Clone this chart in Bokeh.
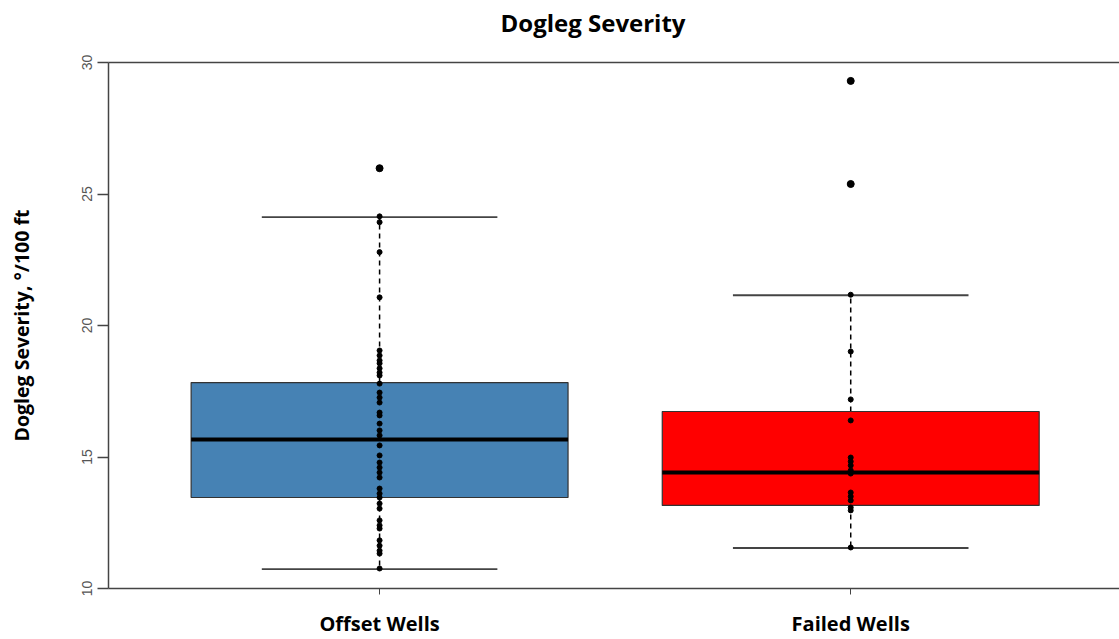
from bokeh.plotting import figure
from bokeh.models import FixedTicker, LinearAxis, Range1d
from bokeh.embed import file_html
from bokeh.resources import INLINE

# ---- data ----
title_text = "Dogleg Severity"
groups = ["Offset Wells", "Failed Wells"]
positions = [1, 2]
box_colors = ["#4682B4", "#FF0000"]
q1 = [13.46, 13.16]
median = [15.67, 14.41]
q3 = [17.83, 16.73]
whisker_low = [10.74, 11.54]
whisker_high = [24.12, 21.15]
outliers_offset = [25.98]
outliers_failed = [29.30, 25.38]

offset_points = [25.98, 24.15, 23.93, 22.79, 21.07, 19.05, 18.86, 18.67, 18.56,
                 18.37, 18.21, 18.10, 17.79, 17.45, 17.26, 17.07, 16.69, 16.58,
                 16.27, 16.01, 15.82, 15.44, 15.06, 14.79, 14.60, 14.41, 14.22,
                 13.80, 13.61, 13.46, 13.23, 13.04, 12.59, 12.40, 12.28, 11.83,
                 11.63, 11.44, 11.33, 10.76]
failed_points = [29.30, 25.38, 21.17, 19.01, 17.19, 16.39, 14.98, 14.83, 14.68,
                 14.49, 14.37, 13.65, 13.50, 13.35, 13.08, 12.97, 11.56]

y_ticks = [10, 15, 20, 25, 30]

# ---- figure ----
p = figure(width=1119, height=639, output_backend="svg", toolbar_location=None,
           x_range=Range1d(0.4246, 2.5705), y_range=Range1d(10, 30),
           min_border_left=108, min_border_top=62, min_border_bottom=51,
           min_border_right=0, title=title_text)
p.grid.visible = False
p.outline_line_color = None
p.background_fill_color = "white"

p.title.align = "left"
p.title.offset = 392
p.title.text_font = "Open Sans"
p.title.text_font_style = "bold"
p.title.text_font_size = "24px"
p.title.text_color = "black"
p.title.standoff = 0

# y axis
ya = p.yaxis[0]
ya.ticker = FixedTicker(ticks=y_ticks)
ya.minor_tick_line_color = None
ya.major_tick_out = 11
ya.major_tick_in = 0
ya.major_label_orientation = "vertical"
ya.major_label_text_font = "Liberation Sans"
ya.major_label_text_font_size = "14px"
ya.major_label_text_color = "#555555"
ya.major_label_standoff = 6
ya.axis_line_color = "#444444"
ya.axis_line_width = 1.5
ya.major_tick_line_color = "#444444"
ya.major_tick_line_width = 1.5
ya.axis_label = "Dogleg Severity, °/100 ft"
ya.axis_label_text_font = "Open Sans"
ya.axis_label_text_font_style = "bold"
ya.axis_label_text_font_size = "19.5px"
ya.axis_label_text_color = "black"
ya.axis_label_standoff = 44

# x axis
xa = p.xaxis[0]
xa.ticker = FixedTicker(ticks=positions)
xa.major_label_overrides = {pos: g for pos, g in zip(positions, groups)}
xa.minor_tick_line_color = None
xa.major_tick_out = 6
xa.major_tick_in = 0
xa.major_tick_line_color = "#444444"
xa.axis_line_color = "#444444"
xa.axis_line_width = 1.5
xa.major_label_text_font = "Open Sans"
xa.major_label_text_font_style = "bold"
xa.major_label_text_font_size = "20px"
xa.major_label_text_color = "black"
xa.major_label_standoff = 15

# top frame line (empty axis; a blank axis label spaces the title upward)
top = LinearAxis(major_tick_line_color=None, minor_tick_line_color=None,
                 major_label_text_font_size="0px", axis_line_color="#444444",
                 axis_line_width=1.5, axis_label=" ",
                 axis_label_text_font_size="19px", axis_label_standoff=0)
top.ticker = FixedTicker(ticks=[])
p.add_layout(top, "above")

half = 0.4
cap_half = 0.25
# whiskers
for i, x in enumerate(positions):
    p.segment(x0=[x], y0=[q3[i]], x1=[x], y1=[whisker_high[i]],
              line_color="black", line_width=1.5, line_dash="5 4")
    p.segment(x0=[x], y0=[q1[i]], x1=[x], y1=[whisker_low[i]],
              line_color="black", line_width=1.5, line_dash="5 4")
    p.segment(x0=[x - cap_half, x - cap_half], y0=[whisker_high[i], whisker_low[i]],
              x1=[x + cap_half, x + cap_half], y1=[whisker_high[i], whisker_low[i]],
              line_color="#444444", line_width=1.8)

# boxes
p.quad(left=[x - half for x in positions], right=[x + half for x in positions],
       bottom=q1, top=q3, fill_color=box_colors, line_color="#333333", line_width=1.2)
p.segment(x0=[x - half for x in positions], y0=median,
          x1=[x + half for x in positions], y1=median,
          line_color="black", line_width=4)

# outliers
p.scatter(x=[1] * len(outliers_offset) + [2] * len(outliers_failed),
          y=outliers_offset + outliers_failed, size=7, color="black")

# strip points
p.scatter(x=[1] * len(offset_points), y=offset_points, size=5, color="black")
p.scatter(x=[2] * len(failed_points), y=failed_points, size=5, color="black")

open("out.html", "w").write(file_html(p, INLINE))
